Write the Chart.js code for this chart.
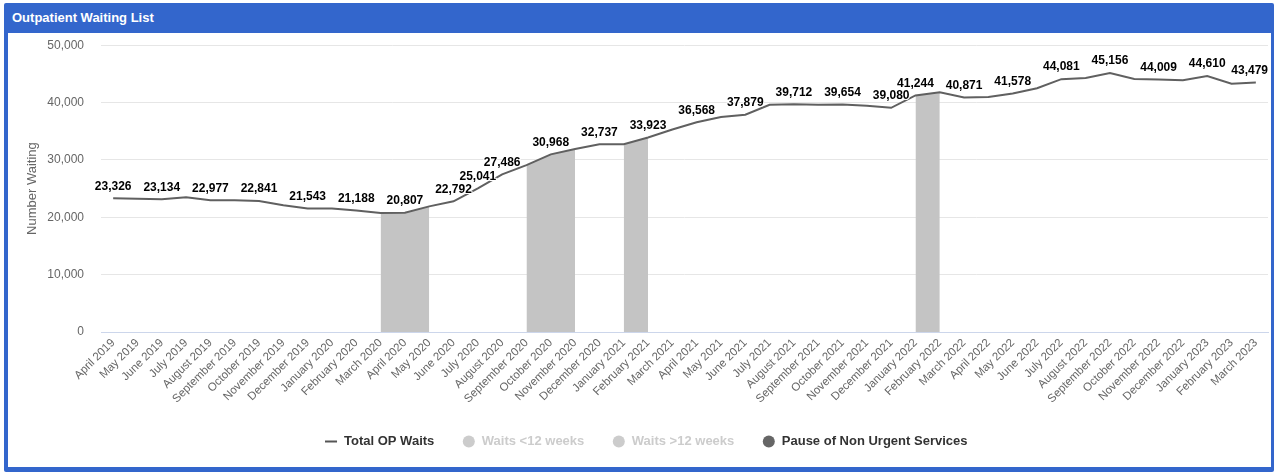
<!DOCTYPE html>
<html>
<head>
<meta charset="utf-8">
<title>Outpatient Waiting List</title>
<script src="https://cdn.jsdelivr.net/npm/chart.js@4/dist/chart.umd.min.js"></script>
<style>
  html, body { margin: 0; padding: 0; background: #fff; }
  body { width: 1276px; height: 474px; position: relative; overflow: hidden; font-family: "Liberation Sans", Arial, sans-serif; }
  .panel { position: absolute; left: 4px; top: 3px; width: 1270px; height: 469px; background: #3366cc; border-radius: 2px; }
  .panel h1 { margin: 0; height: 30px; line-height: 30px; padding-left: 8px; color: #fff; font-size: 13px; font-weight: bold; }
  .body { position: absolute; left: 4px; top: 30px; width: 1263px; height: 434px; background: #fff; }
</style>
</head>
<body>
<div class="panel">
  <h1>Outpatient Waiting List</h1>
  <div class="body"><canvas id="waitsChart"></canvas></div>
</div>
<script>
// months April 2019 .. March 2023
const months = [
  'April 2019', 'May 2019', 'June 2019', 'July 2019', 'August 2019', 'September 2019',
  'October 2019', 'November 2019', 'December 2019', 'January 2020', 'February 2020', 'March 2020',
  'April 2020', 'May 2020', 'June 2020', 'July 2020', 'August 2020', 'September 2020',
  'October 2020', 'November 2020', 'December 2020', 'January 2021', 'February 2021', 'March 2021',
  'April 2021', 'May 2021', 'June 2021', 'July 2021', 'August 2021', 'September 2021',
  'October 2021', 'November 2021', 'December 2021', 'January 2022', 'February 2022', 'March 2022',
  'April 2022', 'May 2022', 'June 2022', 'July 2022', 'August 2022', 'September 2022',
  'October 2022', 'November 2022', 'December 2022', 'January 2023', 'February 2023', 'March 2023'
];

const totalWaits = [
  23326, 23250, 23134, 23500, 22977, 22950,
  22841, 22100, 21543, 21550, 21188, 20750,
  20807, 21900, 22792, 25041, 27486, 29100,
  30968, 31900, 32737, 32750, 33923, 35300,
  36568, 37500, 37879, 39600, 39712, 39600,
  39654, 39450, 39080, 41244, 41800, 40871,
  40950, 41578, 42500, 44081, 44300, 45156,
  44100, 44009, 43900, 44610, 43300, 43479
];

// shaded months when non urgent services were paused
const pauseWaits = [
  null, null, null, null, null, null,
  null, null, null, null, null, 20750,
  20807, 21900, null, null, null, 29100,
  30968, 31900, null, 32750, 33923, null,
  null, null, null, null, null, null,
  null, null, null, 41244, 41800, null,
  null, null, null, null, null, null,
  null, null, null, null, null, null
];

// points that carry a value label
const labelIdx = [0, 2, 4, 6, 8, 10, 12, 14, 15, 16, 18, 20, 22, 24, 26, 28, 30, 32, 33, 35, 37, 39, 41, 43, 45, 47];

const yTicks = [0, 10000, 20000, 30000, 40000, 50000];

const FONT = '"Liberation Sans", Arial, sans-serif';

const valueLabels = {
  id: 'valueLabels',
  afterDatasetsDraw(chart) {
    const meta = chart.getDatasetMeta(0);
    const ctx = chart.ctx;
    ctx.save();
    ctx.font = 'bold 12px ' + FONT;
    ctx.textAlign = 'center';
    ctx.textBaseline = 'middle';
    ctx.lineJoin = 'round';
    labelIdx.forEach(i => {
      const pt = meta.data[i];
      const txt = totalWaits[i].toLocaleString('en-US');
      const w = ctx.measureText(txt).width;
      const x = Math.min(pt.x, chart.chartArea.right - w / 2);
      const y = pt.y - 12;
      ctx.strokeStyle = '#ffffff';
      ctx.lineWidth = 2;
      ctx.strokeText(txt, x, y);
      ctx.fillStyle = '#000000';
      ctx.fillText(txt, x, y);
    });
    ctx.restore();
  }
};

const legendColors = ['#555555', '#cccccc', '#cccccc', '#666666'];

new Chart(document.getElementById('waitsChart'), {
  type: 'line',
  data: {
    labels: months,
    datasets: [
      { label: 'Total OP Waits', data: totalWaits, borderColor: '#606060', borderWidth: 2, pointRadius: 0, tension: 0, fill: false, order: 1 },
      { label: 'Waits <12 weeks', data: [], hidden: true, order: 3 },
      { label: 'Waits >12 weeks', data: [], hidden: true, order: 4 },
      { label: 'Pause of Non Urgent Services', data: pauseWaits, borderWidth: 0, borderColor: 'rgba(0,0,0,0)', backgroundColor: '#c4c4c4', pointRadius: 0, fill: 'origin', spanGaps: false, order: 2 }
    ]
  },
  options: {
    responsive: true,
    maintainAspectRatio: false,
    animation: false,
    layout: { padding: { top: 0, right: 3, left: 16, bottom: 9 } },
    plugins: {
      tooltip: { enabled: false },
      legend: {
        position: 'bottom',
        onClick: null,
        labels: {
          usePointStyle: true,
          boxWidth: 13,
          boxHeight: 8.5,
          padding: 28,
          font: { family: FONT, size: 13, weight: 'bold' },
          color: '#333333',
          generateLabels: chart => chart.data.datasets.map((ds, i) => ({
            text: ds.label,
            datasetIndex: i,
            hidden: false,
            fillStyle: legendColors[i],
            strokeStyle: legendColors[i],
            lineWidth: i === 0 ? 2 : 0,
            pointStyle: i === 0 ? 'line' : 'circle',
            fontColor: ds.hidden ? '#cccccc' : '#333333'
          }))
        }
      }
    },
    scales: {
      x: {
        offset: true,
        grid: { display: false, drawTicks: false },
        border: { display: true, color: '#ccd6eb' },
        ticks: {
          autoSkip: false, minRotation: 45, maxRotation: 45, padding: 4,
          color: '#666666', font: { family: FONT, size: 11.5 }
        },
        afterFit(scale) { scale.height = 75; }
      },
      y: {
        min: 0, max: 50000,
        afterBuildTicks(scale) { scale.ticks = yTicks.map(v => ({ value: v })); },
        grid: { color: '#e6e6e6', drawTicks: true, tickLength: 12, tickColor: 'rgba(0,0,0,0)' },
        border: { display: false },
        ticks: {
          padding: 5, color: '#666666', font: { family: FONT, size: 12 },
          callback: v => v.toLocaleString('en-US')
        },
        title: {
          display: true, text: 'Number Waiting', color: '#666666',
          font: { family: FONT, size: 13 }, padding: { top: 1, bottom: 0 }
        },
        afterFit(scale) { scale.width = 77; }
      }
    }
  },
  plugins: [valueLabels]
});
</script>
</body>
</html>
